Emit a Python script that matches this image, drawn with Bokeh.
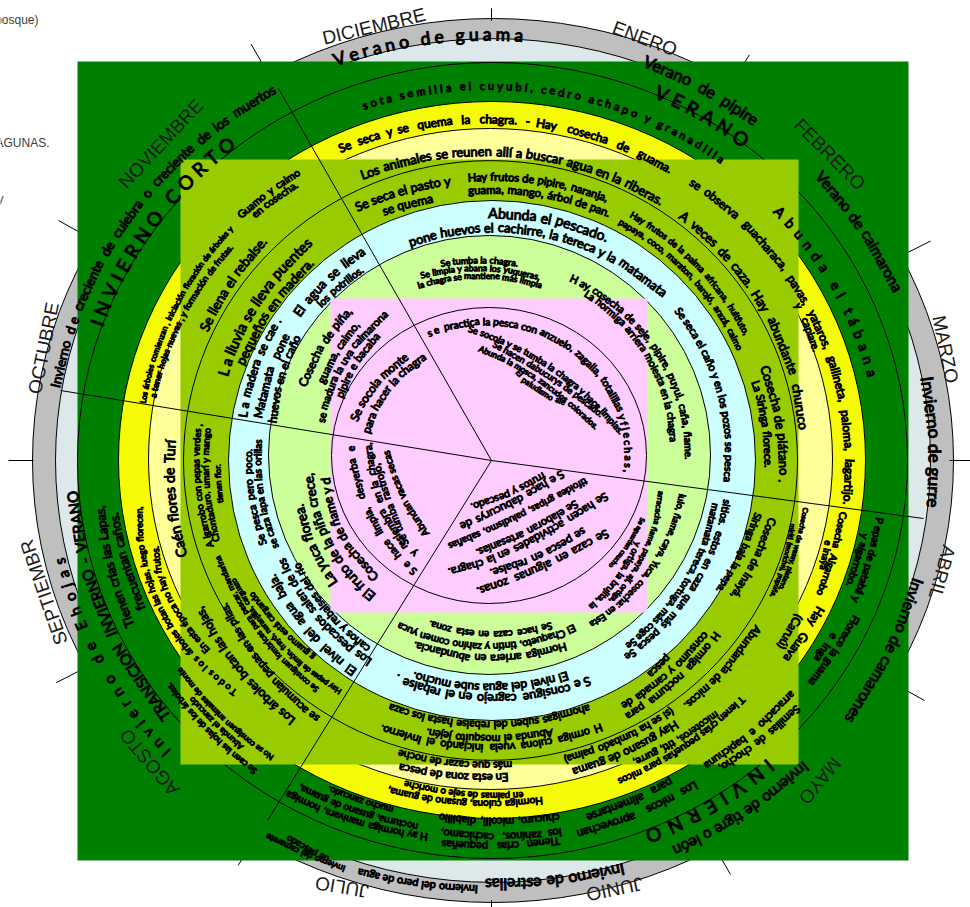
import math, re
import numpy as np
from bokeh.plotting import figure
from bokeh.models import Range1d, ColumnDataSource
from bokeh.core.properties import value
from bokeh.embed import file_html
from bokeh.resources import INLINE

W, H = 970, 907
K = 0.96
C0 = (491.0, 460.0)

# ---- rings (outer to inner): centre x, centre y, half-width, half-height
RING_NAMES = ["mes", "estacion", "clima", "animales", "frutos", "plantas", "peces", "cultivos", "gente"]
RING_CX = [492.5, 492.5, 492.0, 491.5, 490.0, 490.0, 491.5, 489.0, 488.5]
RING_CY = [460.0, 460.0, 460.0, 459.5, 458.5, 460.0, 460.0, 454.5, 455.0]
RING_RX = [460.5, 437.5, 415.0, 373.5, 342.0, 307.0, 263.5, 221.0, 157.5]
RING_RY = [442.0, 422.0, 398.0, 358.5, 330.5, 300.0, 260.0, 219.5, 148.0]

# ---- panels behind rings: left, right, top, bottom (picture px)
PANEL_L = [77, 180, 330]
PANEL_R = [908, 798, 647]
PANEL_T = [61, 159, 298]
PANEL_B = [860, 764, 612]

# ---- the 12 month ticks: clock angle and outer reach
TICK_A = [0, 31.4, 62.5, 90, 120, 151, 180, 211, 242, 270, 300, 331]
TICK_R = [471, 495, 495, 482, 500, 493, 472, 492, 493, 483, 500, 496]

# ---- the 5 season spokes (ends)
SPOKE_X = [278, 60, 923, 267]
SPOKE_Y = [88, 390, 518, 820]

MONTHS = ["DICIEMBRE", "ENERO", "FEBRERO", "MARZO", "ABRIL", "MAYO", "JUNIO", "JULIO", "AGOSTO", "SEPTIEMBR", "OCTUBRE", "NOVIEMBRE"]
MONTH_ARCS = [(328,39,420,17),(615,28,673,50),(800,127,856,183),(938,320,950,378),(947,550,935,593),(833,763,805,797),
              (638,883,590,893),(365,890,318,882),(172,787,128,735),(62,637,30,545),(37,388,53,308),(128,182,197,108)]

SEASONS = ["V e r a n o   d e   g u a m a", "Verano  de  pipire", "Verano de caimarona", "Invierno de gurre",
           "Invierno de camarones", "Invierno de tigre o león", "Invierno de estrellas",
           "Invierno del pero de agua", "Invierno del camarete", "de pescado",
           "I n v i e r n o   d e   E h o j a s",
           "Invierno  d e  creciente  de  culebra  o  creciente  de  los  muertos"]
SEASON_ARCS = [(333,60,523,35,19),(642,60,757,122,18),(817,172,898,292,18),(925,375,932,508,20),
               (918,577,847,722,20),(807,763,673,852,20),(625,868,483,884,19),
               (478,889,357,872,13),(345,869,265,835,12),(328,860,286,837,10),
               (167,755,58,557,15),(55,388,275,88,16)]

PERIODS = ["V E R A N O", "I N V I E R N O", "I N V I E R N O   C O R T O", "TRANSICION INVIERNO - VERANO"]
PERIOD_ARCS = [(655,90,747,142,19),(772,763,645,838,19),(95,325,232,140,19),(170,720,72,488,15)]

NOTES = [
 # dark green band
 "s o t a   s e m i l l a   e l   c u y u b í ,   c e d r o   a c h a p o   y   g r a n a d i l l a",
 "A b u n d a   e l   t á b a n a",
 "P epas de patabá y", "y algarrobo.", "Florece la guama", "e Inga",
 "Semillas de chocho,", "arracacho e bapichuna",
 "Los micos aprovechan", "para alimentarse",
 "Tienen crías pequeñas", "los zahínos, cachicamo,", "chucuro, micolíl, diablillo",
 "H ay hormiga manivara, hormiga", "nocturna, gusano de guama,", "mucho zancudo.",
 "Tienen crías las Lapas,", "frecuentan caños.",
 # yellow band
 "Se seca y se quema la chagra. - Hay cosecha de guama.",
 "se observa guacharaca, pavas, yataros, gallineta, paloma, lagartijo.",
 "y capiare.",
 "Los árboles comienzan , iniciación floración de árboles y",
 "a tener hojas nuevas , y formación de frutas.",
 "T o d o s  l o s  árboles botan las hojas, luego florecen,",
 "En esta época no hay frutos.",
 "Cosecha Algarrobo", "e Inayá",
 "Hormiga culona, gusano de guama,", "en palmas de seje o moriche",
 "T ienen crías pequeñas para micos", "micoteros, tití, gurre,",
 "Guamo y caimo", "en cosecha.",
 "Hay Guava", "(Caruú)",
 "Abunda el zancudo", "No se consiguen animales de monte", "Se caen las hojas de los árboles.",
 # pale yellow band
 "Los animales se reunen allí a buscar agua en la riberas.",
 "A veces de caza. Hay abundante churuco",
 "Caén flores de Turí",
 "Cosecha de wasay, platano,", "miriti (moriche), pupuña,",
 "En esta zona de pesca", "más que cazar de noche",
 "Abundancia de micos.",
 "Hay gusano de guama", "(si se ha tumbado palma)",
 "Los árboles botan las hojas,", "se acumulan pepas en las pilas.",
 # olive band
 "Se seca el pasto y", "se quema",
 "Hay frutos de pipire, naranja,", "guama, mango, árbol de pan.",
 "Hay frutos de la palma africana, huitfuto,", "papaya, coco, maraton, barojó, arazá, caimo",
 "Cosecha de plátano .", "La Siringa florece.",
 "Cosecha de Inayá,", "Siringa baja la pepa.",
 "H ormiga nocturna para", "consumo y carnada de", "pesca",
 "H ormiga culona vuela iniciando el Invierno.", "Abunda el mosquito jején.",
 "ahormigas suben del rebalse hasta los caza",
 "Se consiguen lombrices para pescar, mandarina",
 "Hay pepas de limón, frayó, naranjilla, carguazo", "g guamo está cargando",
 "A lgarrobo con pepas verdes ,", "Chontaduro, umarí y mango", "tienen flor.",
 "Se llena el rebalse.", "L a lluvia se lleva puentes", "pequeños en madera.",
 # cyan band
 "Abunda el pescado.", "pone huevos el cachirre, la tereca y la matamata",
 "Se seca el caño y en los pozos se pesca",
 "Se pesca más que caza en estos sitios.", "Se coge más tortuga, tereca, matamata",
 "S e consigue cagrejo en el rebalse .", "El nivel del agua sube mucho.",
 "El nivel del agua baja.", "Los pescados salen de los", "caños y rebalses del río",
 "Se pesca pero poco.", "se caza lapa en las orillas",
 "L a madera se cae .", "Matamata pone", "huevos en el caño",
 "El agua se lleva", "los potrillos.",
 # light green band
 "Se tumba la chagra.", "Se limpia y abana los yuqueras,", "la chagra se mantiene más limpia",
 "H ay cosecha de seje, pipire, puyul, caña, ñame.", "La hormiga arriera molesta en la chagra",
 "Esta en cosecha: Yuca, caya, ñame, lulo,", "ortiga, ají, papaya, ñame, arracacha",
 "Se hace caza en esta zona.", "El Chaqueto, tintín y zahíno comen yuca", "Hormiga arriera en abundancia.",
 "La yuca florea.", "El fruto de la piña crece,", "Cosecha de ñame y d",
 "Cosecha de piña,", "guama, caimo,", "se madura la uva caimarona", "pipire e bacaba",
 # pink centre
 "Se socola monte", "para hacer la chagra",
 "s e  practica la pesca con anzuelo, zagalla, totalillas y f l e c h a s ,",
 "Se socola y se tumba la chagra y hace limpias.", "Se hacen dabucurys de pescado.",
 "Abunda la mosca, zancudos colorados.", "El paludismo ale",
 "Se caza en algunas zonas.", "se pesca en rebalse.", "Se hacen actividades en la chagra.",
 "Se elaboran artesanías.", "tifoidea gripas, paludismo, sabañas",
 "S e hace dabucurys de", "frutos y pescado.",
 "S e  hace limpia, desyerba e", "y resiembra en la chagra,", "Se tumba rastrojo,", "Abundan vacas secas",
 "Se aguardan caucho", "y ortiga, la brujita, la",
]
# x0, y0, x1, y1, size, reversed-word-order flag, optional mid point (for flatter lines)
NOTE_ARCS = [
 (362,105,723,160,11),(775,207,873,377,14),
 (880,517,855,602,11),(865,533,848,587,11),(857,615,810,685,11),(835,633,815,663,11),
 (800,705,718,770,11),(795,690,702,768,11),
 (698,783,570,835,12),(673,780,582,818,12),
 (562,840,437,843,11),(562,832,437,832,11),(560,817,437,817,11),
 (427,837,285,793,11),(418,827,298,787,11),(393,810,327,788,11),
 (130,627,99,505,13),(142,610,113,512,13),
 # yellow
 (337,149,675,172,12),(690,180,846,507,12),(797,302,818,357,10.5),
 (142,403,231,227,9),(152,397,231,245,9),
 (235,693,139,505,10,0,160,610),(207,652,155,545,10,0,167,597),
 (843,510,818,597,10),(828,540,822,570,10),
 (543,800,387,790,10.5),(523,795,403,783,10),
 (743,698,618,782,10.5),(718,712,633,763,10.5),
 (237,217,300,170,10.5),(252,215,297,183,10.5),
 (822,605,783,663,12),(800,612,778,650,12),
 (242,748,190,697,10),(272,758,178,668,10),(255,772,167,683,10),
 # pale yellow
 (360,175,663,202,13),(680,213,803,432,13),(182,557,170,438,15),
 (805,507,780,590,10),(793,523,772,597,10),
 (508,777,398,767,11.5),(512,765,397,753,11.5),
 (758,625,685,707,14),(677,723,572,772,12),(673,710,563,760,12),
 (293,722,198,607,14),(317,720,222,603,14),
 # olive
 (355,207,450,180,14),(382,211,433,198,14),
 (467,177,608,198,12.5),(467,190,610,213,12.5),
 (630,213,747,335,9),(618,220,740,350,9),
 (763,365,783,482,13),(755,380,768,468,12.5),
 (772,517,733,598,12.5),(758,512,718,592,12.5),
 (718,633,625,718,11),(707,632,622,707,11),(670,655,648,677,11),
 (602,727,378,727,11),(553,732,425,732,11),(590,707,388,707,11),
 (317,690,217,555,9.5),(340,692,232,578,9.5),(313,658,250,592,9.5),
 (210,547,198,423,10),(217,542,207,427,10),(220,503,217,463,9.5),
 (203,330,265,238,15),(222,375,310,240,15),(240,365,312,260,15),
 # cyan
 (487,213,608,238,15),(408,242,665,295,14),(677,308,727,482,12),
 (727,497,625,658,10.5,1),(715,502,627,647,10.5,1),
 (590,680,395,678,12.5),(568,675,412,675,12.5),
 (355,673,270,573,12.5),(370,663,280,558,12),(368,650,295,563,12),
 (263,545,248,447,10.5),(275,548,258,438,10.5),
 (242,417,278,318,12),(258,422,287,332,12),(272,423,297,335,12),
 (295,315,365,248,13),(318,305,363,268,13),
 # light green
 (440,263,518,263,9.5),(420,275,540,277,9.5),(417,285,542,285,9.5),
 (570,277,688,460,10.5),(585,292,673,442,10.5),
 (682,493,590,625,11,1),(660,490,610,602,10,1),
 (552,625,427,623,10),(575,627,397,625,11),(567,645,412,643,11),
 (333,585,298,503,14),(373,598,308,472,14,0,327,543),(377,578,325,477,13,0,340,533),
 (302,387,350,308,12),(320,383,357,322,12),(320,422,387,312,11),(338,398,378,333,11),
 # pink
 (353,420,407,355,13),(365,433,425,355,13),
 (427,333,627,472,12),
 (468,328,622,433,10,0,553,368),(493,343,602,415,10,0,553,378),(478,348,597,428,10,0,537,378),(517,370,565,402,10,0,537,388),
 (608,532,475,592,12,0,540,568),(585,530,488,573,11.5,0,537,557),(607,495,447,572,11.5,0,517,548),
 (577,503,475,553,11.5,0,527,532),(587,480,448,547,11,0,517,517),
 (563,473,460,527,11.5,0,512,503),(545,475,470,507,11,0,507,495),
 (415,573,350,445,10.5,0,370,517),(415,555,367,440,10.5,0,382,510),(405,545,375,462,10.5,0,388,503),(427,535,385,450,10.5,0,402,497),
 (643,518,610,567,10),(638,542,590,608,10),
]
assert len(NOTES) == len(NOTE_ARCS), (len(NOTES), len(NOTE_ARCS))

MARGIN_TEXT = ["(bosque)", "LAGUNAS.", "y"]
MARGIN_X = [38, 49, 3]
MARGIN_Y = [19, 142, 198]

COLOR_GRAY, COLOR_MIST, COLOR_GREEN = "#BFBFBF", "#DDE8EB", "#008000"
COLOR_YEL, COLOR_PALE, COLOR_OLIVE = "#F5FA05", "#FFFF99", "#99CC00"
COLOR_CYAN, COLOR_LIME, COLOR_PINK = "#CCFFFF", "#CCFF99", "#FFCCFF"


def Y(py):
    return H - np.asarray(py, dtype=float)


# approximate advance widths (em) of Lato Bold, used to share an arc among words
ADV = {" ": .22, ".": .25, ",": .25, ";": .27, ":": .27, "-": .36, "(": .34, ")": .34,
       "a": .52, "b": .58, "c": .48, "d": .58, "e": .54, "f": .35, "g": .53, "h": .57, "i": .27, "j": .27,
       "k": .54, "l": .27, "m": .84, "n": .57, "o": .59, "p": .58, "q": .58, "r": .39, "s": .44, "t": .37,
       "u": .57, "v": .53, "w": .79, "x": .53, "y": .53, "z": .47,
       "A": .70, "I": .29, "J": .42, "L": .50, "M": .90, "T": .58, "E": .57, "F": .55, "S": .53, "H": .74,
       "N": .74, "O": .78, "R": .62, "V": .70, "C": .66, "D": .74, "P": .60, "Y": .64, "G": .71}
ACC = str.maketrans("áéíóúñÁÉÍÓÚÑ", "aeiounAEIOUN")


def cw(ch):
    return ADV.get(ch.translate(ACC), 0.55)


def arc_words(text, x0, y0, x1, y1, rev=False, mid=None):
    if rev:
        text = " ".join(reversed(text.split(" ")))
    n = 400
    if mid is None:
        cx, cy = C0
        dx0, dy0 = x0 - cx, (y0 - cy) / K
        dx1, dy1 = x1 - cx, (y1 - cy) / K
        t0 = math.atan2(dx0, -dy0)
        t1 = math.atan2(dx1, -dy1)
        r0, r1 = math.hypot(dx0, dy0), math.hypot(dx1, dy1)
        t1 = t0 + ((t1 - t0) % (2 * math.pi))
        ts = np.linspace(t0, t1, n)
        rs = np.linspace(r0, r1, n)
        px = cx + rs * np.sin(ts)
        py = cy - K * rs * np.cos(ts)
    else:
        u = np.linspace(0, 1, n)
        a, b, c = (1 - u) * (1 - 2 * u), 4 * u * (1 - u), u * (2 * u - 1)
        px = a * x0 + b * mid[0] + c * x1
        py = a * y0 + b * mid[1] + c * y1
    s = np.concatenate([[0], np.cumsum(np.hypot(np.diff(px), np.diff(py)))])
    gx, gy = np.gradient(px), np.gradient(py)
    widths = np.array([cw(c) for c in text])
    cum = np.concatenate([[0], np.cumsum(widths)])
    total = cum[-1]
    out = []
    for m in re.finditer(r"\S+", text):
        f = 0.5 * (cum[m.start()] + cum[m.end()]) / total
        d = f * s[-1]
        x = float(np.interp(d, s, px))
        y = float(np.interp(d, s, py))
        ang = math.atan2(-float(np.interp(d, s, gy)), float(np.interp(d, s, gx)))
        out.append((m.group(), x, y, ang))
    return out, s[-1] / total


p = figure(width=W, height=H, output_backend="svg", toolbar_location=None,
           x_range=Range1d(0, W), y_range=Range1d(0, H), min_border=0,
           x_axis_type=None, y_axis_type=None, outline_line_color=None,
           background_fill_color="white", border_fill_color="white",
           styles={"position": "absolute", "left": "0px", "top": "0px"})
p.grid.visible = False


def ring(i, fill):
    p.ellipse(x=[RING_CX[i]], y=Y([RING_CY[i]]), width=[2 * RING_RX[i]], height=[2 * RING_RY[i]],
              fill_color=fill, fill_alpha=1 if fill else 0, line_color="black", line_width=1)


def panel(i, fill):
    p.quad(left=[PANEL_L[i]], right=[PANEL_R[i]], top=Y([PANEL_T[i]]), bottom=Y([PANEL_B[i]]),
           fill_color=fill, line_color=None)


ring(0, COLOR_GRAY)
ring(1, COLOR_MIST)
# month ticks
tx0, ty0, tx1, ty1 = [], [], [], []
for a, r in zip(TICK_A, TICK_R):
    t = math.radians(a)
    tx0.append(C0[0] + 458 * math.sin(t)); ty0.append(C0[1] - K * 458 * math.cos(t))
    tx1.append(C0[0] + r * math.sin(t)); ty1.append(C0[1] - K * r * math.cos(t))
p.segment(tx0, Y(ty0), tx1, Y(ty1), line_color="black", line_width=1)

panel(0, COLOR_GREEN)
ring(2, None)
ring(3, COLOR_YEL)
ring(4, COLOR_PALE)
panel(1, COLOR_OLIVE)
ring(5, None)
ring(6, COLOR_CYAN)
ring(7, COLOR_LIME)
panel(2, COLOR_PINK)
ring(8, None)

p.segment([C0[0]] * 4, Y([C0[1]] * 4), SPOKE_X, Y(SPOKE_Y), line_color="black", line_width=1)


def draw_words(rows, font, style, color="black", outline=None):
    src = ColumnDataSource(dict(x=[r[0] for r in rows], y=[r[1] for r in rows], text=[r[2] for r in rows],
                                angle=[r[3] for r in rows], size=[r[4] for r in rows]))
    p.text(x="x", y="y", text="text", angle="angle", source=src, text_font_size="size",
           text_font=value(font), text_font_style=style, text_color=color, text_outline_color=outline,
           text_align="center", text_baseline="alphabetic")


rows = []
for txt, arc in zip(MONTHS, MONTH_ARCS):
    words, _ = arc_words(txt, *arc)
    for w, x, y, a in words:
        rows.append((x, H - y, w, a, "19px"))
draw_words(rows, "Liberation Sans", "normal", "#1a1a1a")

bold = []
for group, arcs in ((SEASONS, SEASON_ARCS), (PERIODS, PERIOD_ARCS), (NOTES, NOTE_ARCS)):
    for txt, arc in zip(group, arcs):
        rev = len(arc) > 5 and bool(arc[5])
        mid = (arc[6], arc[7]) if len(arc) > 7 else None
        words, fit = arc_words(txt, arc[0], arc[1], arc[2], arc[3], rev, mid)
        size = min(arc[4], fit)
        for w, x, y, a in words:
            bold.append((x, H - y, w, a, f"{size:.1f}px"))
draw_words(bold, "Lato", "normal", "black", "black")

p.text(x=MARGIN_X, y=Y(MARGIN_Y), text=MARGIN_TEXT, text_font=value("Liberation Sans"), text_font_size="12px",
       text_color="#404040", text_align="right", text_baseline="alphabetic")

open("out.html", "w").write(file_html(p, INLINE))
